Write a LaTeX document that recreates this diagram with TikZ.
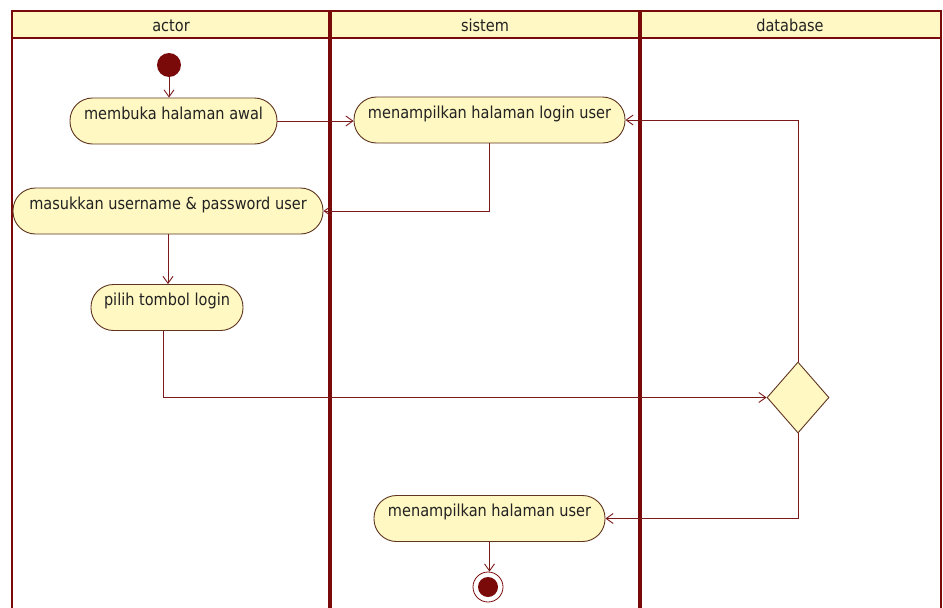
\documentclass[tikz,border=0pt]{standalone}
\usepackage{fontspec}
\setmainfont[FakeStretch=0.88]{DejaVu Sans}
\usetikzlibrary{arrows.meta,shapes.geometric}
\definecolor{lane}{HTML}{7A0A0A}
\definecolor{hdr}{HTML}{FFF8C4}
\definecolor{actfill}{HTML}{FFF8C2}
\definecolor{actline}{HTML}{5E3520}
\definecolor{flow}{HTML}{7A1A1A}
\definecolor{txt}{HTML}{222222}
\tikzset{
  act/.style={draw=actline, fill=actfill, line width=0.9pt, rounded corners=22.5pt,
    inner xsep=0pt, inner ysep=0pt, text height=21pt, text depth=25pt,
    font=\fontsize{16.5}{18}\selectfont, text=txt},
  flowline/.style={draw=flow, line width=0.9pt, -{Straight Barb[length=7pt,width=10pt]}},
  lanehead/.style={font=\fontsize{16.5}{18}\selectfont, text=txt, anchor=base},
  decision/.style={diamond, draw=actline, fill=actfill, line width=0.9pt,
    minimum width=62pt, minimum height=71pt, inner sep=0pt, aspect=0.87}
}
\begin{document}
\begin{tikzpicture}[x=1pt,y=-1pt]
\useasboundingbox (0,0) rectangle (943,608);
\fill[white] (0,0) rectangle (943,608);
% swimlane frame
\fill[hdr] (12,11) rectangle (941,38);
\draw[lane, line width=2pt] (12,38) -- (941,38);
\draw[lane, line width=2.5pt] (12,615) -- (12,11) -- (941,11) -- (941,615);
\draw[lane, line width=4pt] (330,11) -- (330,615);
\draw[lane, line width=4pt] (640,11) -- (640,615);
\node[lanehead] (hactor) at (171,31.5) {actor};
\node[lanehead] (hsistem) at (485,31.5) {sistem};
\node[lanehead] (hdb) at (790,31.5) {database};
% activities
\node[circle, fill=lane, minimum size=24pt, inner sep=0pt] (start) at (169,65) {};
\node[act, minimum width=207pt] (n1) at (173.5,121) {membuka halaman awal};
\node[act, minimum width=271pt] (n2) at (489.5,120) {menampilkan halaman login user};
\node[act, minimum width=310pt] (n3) at (168,211) {masukkan username \& password user};
\node[act, minimum width=152pt] (n4) at (167,307.5) {pilih tombol login};
\node[decision] (dec) at (798,397.5) {};
\node[act, minimum width=231pt] (n5) at (489.5,518.5) {menampilkan halaman user};
\node[circle, draw=lane, fill=white, line width=0.8pt, minimum size=30pt, inner sep=0pt] (end) at (488,587) {};
\node[circle, fill=lane, minimum size=20pt, inner sep=0pt] (endin) at (end.center) {};
% control flows
\draw[flowline] (start) -- (start |- n1.north);
\draw[flowline] (n1.east) -- (n1.east -| n2.west);
\draw[flowline] (n2.south) |- (n3.east);
\draw[flowline] (n3.south) -- (n3.south |- n4.north);
\draw[flowline] ([xshift=-4pt]n4.south) |- (dec.west);
\draw[flowline] (dec.north) |- (n2.east);
\draw[flowline] (dec.south) |- (n5.east);
\draw[flowline] (n5.south) -- (n5.south |- end.north);
\end{tikzpicture}
\end{document}
